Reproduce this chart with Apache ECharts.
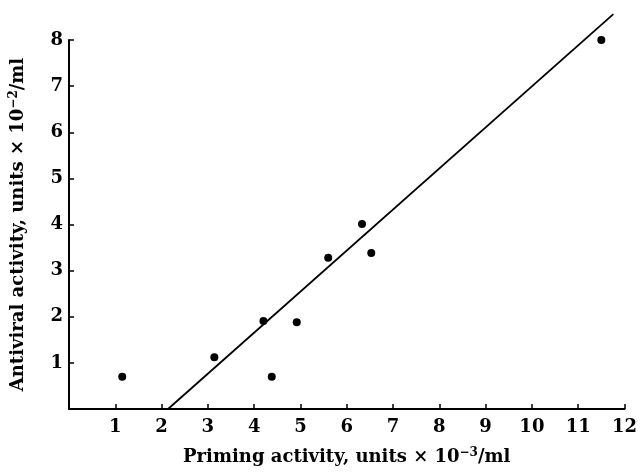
<!DOCTYPE html>
<html><head><meta charset="utf-8">
<script src="https://cdn.jsdelivr.net/npm/echarts@6/dist/echarts.min.js"></script>
<style>html,body{margin:0;padding:0;background:#fff}#c{width:640px;height:472px}</style>
</head><body><div id="c"></div>
<script>
const priming = [1.15, 3.14, 4.2, 4.38, 4.92, 5.6, 6.33, 6.53, 11.5];
const antiviral = [0.7, 1.12, 1.91, 0.7, 1.88, 3.28, 4.01, 3.38, 8.0];
const fitX = [2.14, 11.76];
const fitY = [0, 8.56];
const xTitle = '{t|Priming activity, units \u00d7 10}{s|\u22123}{t|/ml}';
const yTitle = '{t|Antiviral activity, units \u00d7 10}{s|\u22122}{t|/ml}';

const font = 'DejaVu Serif';
const rich = {
  t: {color: '#000', fontFamily: font, fontWeight: 'bold', fontSize: 18},
  s: {color: '#000', fontFamily: font, fontWeight: 'bold', fontSize: 12, padding: [0, 0, 9, 0]}
};
const chart = echarts.init(document.getElementById('c'));
chart.setOption({
  animation: false,
  grid: {left: 68, right: 15, top: 40, bottom: 63},
  xAxis: {
    type: 'value', min: 0, max: 12, interval: 1,
    axisLine: {lineStyle: {color: '#000', width: 2}},
    axisTick: {inside: true, length: 5, lineStyle: {color: '#000', width: 1.5}},
    splitLine: {show: false},
    axisLabel: {color: '#000', fontFamily: font, fontWeight: 'bold', fontSize: 18, margin: 9,
      formatter: v => v === 0 ? '' : String(v)},
    name: xTitle, nameLocation: 'middle', nameGap: 38,
    nameTextStyle: {color: '#000', fontFamily: font, fontWeight: 'bold', fontSize: 18, rich: rich}
  },
  yAxis: {
    type: 'value', min: 0, max: 8, interval: 1,
    axisLine: {lineStyle: {color: '#000', width: 2}},
    axisTick: {inside: true, length: 5, lineStyle: {color: '#000', width: 1.5}},
    splitLine: {show: false},
    axisLabel: {color: '#000', fontFamily: font, fontWeight: 'bold', fontSize: 18, margin: 6,
      formatter: v => v === 0 ? '' : String(v)},
    name: yTitle, nameLocation: 'middle', nameGap: 40, nameRotate: 90,
    nameTextStyle: {color: '#000', fontFamily: font, fontWeight: 'bold', fontSize: 18, rich: rich}
  },
  series: [
    {type: 'scatter', data: priming.map((x, i) => [x, antiviral[i]]),
     symbolSize: 8, itemStyle: {color: '#000', opacity: 1}},
    {type: 'line', data: fitX.map((x, i) => [x, fitY[i]]), clip: false,
     symbol: 'none', lineStyle: {color: '#000', width: 1.8}}
  ]
});
</script></body></html>
